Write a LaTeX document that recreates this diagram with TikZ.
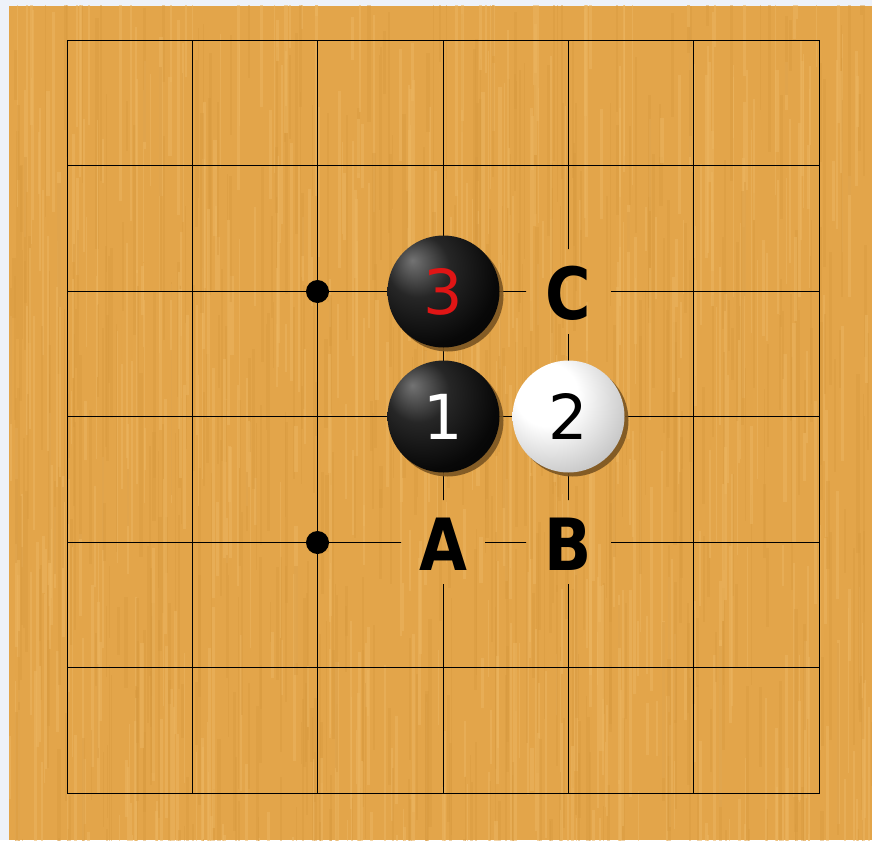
\documentclass[tikz,border=0pt]{standalone}
\usepackage{fontspec}
\setmainfont{DejaVu Sans}
\newfontfamily\letterfont{DejaVu Sans}[FakeStretch=0.86]
\usetikzlibrary{shadows}
\definecolor{board}{HTML}{E3A54A}
\definecolor{boardlight}{HTML}{ECB560}
\definecolor{boarddark}{HTML}{D89A40}
\definecolor{bg}{HTML}{EEF2F9}
\definecolor{stoneshadow}{HTML}{7A5522}
\definecolor{numred}{HTML}{E01515}
\pgfdeclareradialshading{blackstone}{\pgfpoint{-14bp}{14bp}}{color(0bp)=(black!55); color(14bp)=(black!85); color(32bp)=(black!97); color(75bp)=(black)}
\pgfdeclareradialshading{whitestone}{\pgfpoint{-12bp}{12bp}}{color(0bp)=(white); color(14bp)=(white); color(34bp)=(black!22); color(54bp)=(black!52); color(75bp)=(black!58)}
\tikzset{
  stonebase/.style={circle, minimum size=112pt, inner sep=0pt,
    drop shadow={shadow xshift=4pt, shadow yshift=-4pt, fill=stoneshadow, opacity=0.9},
    font=\fontsize{62}{62}\selectfont},
  bstone/.style={stonebase, shading=blackstone},
  wstone/.style={stonebase, shading=whitestone},
  hoshi/.style={circle, fill=black, minimum size=23pt, inner sep=0pt},
  letterlabel/.style={font=\letterfont\fontsize{72}{72}\selectfont\bfseries, text=black, inner sep=0pt},
  gridline/.style={line width=1.3pt, black},
}
\begin{document}
\begin{tikzpicture}[x=1pt,y=-1pt]
\useasboundingbox (0,0) rectangle (872,840);
\fill[bg] (0,0) rectangle (872,840);
\fill[board] (9,6) rectangle (872,840);
% wood texture
\begin{scope}
\clip (9,6) rectangle (872,840);
\pgfmathsetseed{42}
\foreach \i in {1,...,1100}{
  \pgfmathsetmacro\xx{9+863*rnd}
  \pgfmathsetmacro\yy{-60+900*rnd}
  \pgfmathsetmacro\ll{40+200*rnd}
  \pgfmathsetmacro\ww{1+2.5*rnd}
  \ifodd\i
    \fill[boardlight, opacity=0.55] (\xx,\yy) rectangle ++(\ww,\ll);
  \else
    \fill[boarddark, opacity=0.45] (\xx,\yy) rectangle ++(\ww,\ll);
  \fi
}
\end{scope}
% grid, with gaps around the letter marks
\begin{scope}[even odd rule]
\clip (0,0) rectangle (872,840)
  (401,500) rectangle (485,584)
  (526,500) rectangle (611,584)
  (526,249) rectangle (611,334);
\foreach \x in {67.5,192.5,317.5,443.5,568.5,693.5,819.5}
  \draw[gridline] (\x,40.5) -- (\x,793.5);
\foreach \y in {40.5,165.5,291.5,416.5,542.5,667.5,793.5}
  \draw[gridline] (67.5,\y) -- (819.5,\y);
\end{scope}
% star points
\node[hoshi] (h1) at (317.5,291.5) {};
\node[hoshi] (h2) at (317.5,542.5) {};
% stones
\node[bstone] (s3) at (443.5,291.5) {\textcolor{numred}{3}};
\node[bstone] (s1) at (443.5,416.5) {\textcolor{white}{1}};
\node[wstone] (s2) at (568.5,416.5) {\textcolor{black}{2}};
% letter marks
\node[letterlabel] (mA) at (443.5,544) {A};
\node[letterlabel] (mB) at (568.5,544) {B};
\node[letterlabel] (mC) at (568.5,293) {C};
\end{tikzpicture}
\end{document}
